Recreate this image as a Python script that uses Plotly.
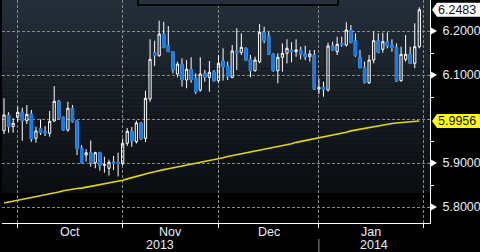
import numpy as np
import pandas as pd
import plotly.graph_objects as go

# ---------------- data ----------------
dates = pd.bdate_range("2013-09-26", "2014-01-31")

opens = [
    5.9735, 6.0091, 5.9826, 6.0039, 6.0153, 5.9962, 6.0114, 5.9562, 5.9789, 5.9712,
    5.9675, 5.9955, 6.0403, 6.0039, 5.9750, 6.0244, 5.9955, 5.9341, 5.9182, 5.9235,
    5.9007, 5.9235, 5.8948, 5.8880, 5.9023, 5.9012, 5.8985, 5.9448, 5.9721, 5.9485,
    5.9910, 5.9562, 6.0455, 6.1507, 6.1439, 6.1932, 6.1666, 6.1530, 6.1023, 6.1250,
    6.0887, 6.1130, 6.0925, 6.0660, 6.1039, 6.0948, 6.1075, 6.0871, 6.1319, 6.1205,
    6.0948, 6.1546, 6.1516, 6.1607, 6.1357, 6.1098, 6.1303, 6.1971, 6.1887, 6.1471,
    6.1098, 6.1403, 6.1494, 6.1569, 6.1530, 6.1569, 6.1478, 6.1416, 6.1455, 6.0682,
    6.0721, 6.0660, 6.1660, 6.1530, 6.1712, 6.1682, 6.2023, 6.1773, 6.1403, 6.1175,
    6.0825, 6.1341, 6.1780, 6.1585, 6.1757, 6.1682, 6.1630, 6.0871, 6.1357, 6.1478,
    6.1266, 6.1644]
highs = [
    6.0471, 6.0153, 6.0016, 6.0280, 6.0257, 6.0319, 6.0205, 5.9826, 5.9994, 5.9841,
    6.0182, 6.0750, 6.0432, 6.0053, 6.0394, 6.0319, 5.9966, 5.9410, 5.9312, 5.9512,
    5.9257, 5.9257, 5.9144, 5.9080, 5.9160, 5.9235, 5.9557, 5.9796, 5.9819, 5.9962,
    5.9932, 6.0644, 6.1812, 6.1780, 6.2235, 6.2212, 6.2114, 6.1541, 6.1303, 6.1380,
    6.1341, 6.1403, 6.1039, 6.1403, 6.1114, 6.1319, 6.1114, 6.1455, 6.1607, 6.1303,
    6.1682, 6.2062, 6.1948, 6.1625, 6.1455, 6.1416, 6.2159, 6.2098, 6.1984, 6.1494,
    6.1494, 6.1721, 6.1812, 6.1744, 6.1812, 6.1644, 6.1666, 6.1569, 6.1569, 6.0925,
    6.0848, 6.1735, 6.1757, 6.1871, 6.1871, 6.2198, 6.2137, 6.1948, 6.1569, 6.1303,
    6.1455, 6.1984, 6.1948, 6.1962, 6.1971, 6.1812, 6.1721, 6.1644, 6.1910, 6.1644,
    6.2175, 6.2539]
lows = [
    5.9660, 5.9689, 5.9689, 5.9939, 5.9507, 5.9887, 5.9485, 5.9462, 5.9637, 5.9614,
    5.9598, 5.9939, 5.9994, 5.9735, 5.9712, 5.9921, 5.9182, 5.8994, 5.9030, 5.8916,
    5.8880, 5.8826, 5.8780, 5.8716, 5.8841, 5.8694, 5.8944, 5.9387, 5.9371, 5.9444,
    5.9523, 5.9478, 6.0394, 6.1205, 6.1416, 6.1607, 6.1530, 6.1039, 6.0948, 6.0735,
    6.0698, 6.0825, 6.0569, 6.0621, 6.0848, 6.0621, 6.0848, 6.0812, 6.0871, 6.0887,
    6.0925, 6.1114, 6.1455, 6.1325, 6.0948, 6.1075, 6.1266, 6.1721, 6.1455, 6.1075,
    6.0812, 6.1075, 6.1266, 6.1289, 6.1416, 6.1357, 6.1341, 6.1303, 6.0660, 6.0569,
    6.0507, 6.0621, 6.1553, 6.1455, 6.1644, 6.1644, 6.1721, 6.1416, 6.1153, 6.0812,
    6.0796, 6.1266, 6.1494, 6.1507, 6.1607, 6.1530, 6.0848, 6.0848, 6.1303, 6.1250,
    6.1153, 6.1607]
closes = [
    6.0091, 5.9826, 5.9903, 6.0153, 5.9962, 6.0107, 5.9546, 5.9728, 5.9689, 5.9675,
    5.9948, 6.0403, 6.0016, 5.9750, 6.0244, 5.9939, 5.9330, 5.9007, 5.9235, 5.9007,
    5.9235, 5.8948, 5.8962, 5.9016, 5.8994, 5.8989, 5.9448, 5.9721, 5.9500, 5.9910,
    5.9551, 6.0471, 6.1357, 6.1439, 6.1932, 6.1630, 6.1530, 6.1114, 6.1250, 6.0887,
    6.1130, 6.0887, 6.0621, 6.1023, 6.0948, 6.1062, 6.0871, 6.1266, 6.1189, 6.0962,
    6.1546, 6.1507, 6.1630, 6.1341, 6.1098, 6.1341, 6.1971, 6.1780, 6.1471, 6.1098,
    6.1403, 6.1494, 6.1607, 6.1530, 6.1569, 6.1471, 6.1416, 6.1478, 6.0682, 6.0721,
    6.0675, 6.1660, 6.1569, 6.1698, 6.1689, 6.2023, 6.1744, 6.1439, 6.1166, 6.0825,
    6.1341, 6.1780, 6.1516, 6.1757, 6.1666, 6.1630, 6.0864, 6.1471, 6.1471, 6.1266,
    6.1644, 6.2483]
moving_avg = [
    5.809, 5.811, 5.813, 5.815, 5.817, 5.819, 5.821, 5.823,
    5.825, 5.828, 5.830, 5.832, 5.834, 5.837, 5.839,
    5.840, 5.842, 5.843, 5.845, 5.847, 5.848, 5.850,
    5.852, 5.854, 5.857, 5.859, 5.861,
    5.864, 5.867, 5.869, 5.872, 5.875,
    5.878, 5.880, 5.883,
    5.885, 5.887, 5.889, 5.891, 5.894, 5.896, 5.898, 5.900, 5.902,
    5.904, 5.906, 5.908, 5.910, 5.912, 5.915, 5.917, 5.919, 5.921, 5.923, 5.925,
    5.927, 5.929, 5.931, 5.934, 5.936, 5.938, 5.940, 5.942, 5.944, 5.947, 5.949,
    5.951, 5.953, 5.955, 5.958, 5.960, 5.962, 5.964, 5.966, 5.968, 5.970, 5.973, 5.975,
    5.977, 5.979, 5.981, 5.983, 5.985, 5.987, 5.989,
    5.990, 5.991, 5.992, 5.993, 5.994, 5.995, 5.9956]

y_tickvals = [5.8, 5.9, 6.0, 6.1, 6.2]
y_ticktext = ["5.8000", "5.9000", "", "6.1000", "6.2000"]
y_minor = [5.85, 5.95, 6.05, 6.15]

# ---------------- derived positions ----------------
n = len(dates)
xs = list(range(n))
month_starts = [i for i in range(1, n) if dates[i].month != dates[i - 1].month] + [n]
month_names = [dates[i].strftime("%b") for i in month_starts[:-1]]
X_RANGE = [-0.44, 93.34]
Y_RANGE = [5.7637, 6.2705]

down = [i for i in range(n) if closes[i] < opens[i]]

BG = "#000000"
TXT = "#e8eef6"
GRID = "#8a8a8a"
BLUE = "#0b7cf2"
FONT = "Liberation Sans"

fig = go.Figure()

fig.add_trace(go.Candlestick(
    x=xs, open=opens, high=highs, low=lows, close=closes,
    increasing=dict(line=dict(color="white", width=1), fillcolor="rgba(0,0,0,0)"),
    decreasing=dict(line=dict(color="white", width=1), fillcolor=BLUE),
    whiskerwidth=0, hoverinfo="skip", showlegend=False,
))
# solid blue bodies for down days (covers the white outline)
fig.add_trace(go.Candlestick(
    x=[xs[i] for i in down],
    open=[opens[i] for i in down], high=[opens[i] for i in down],
    low=[closes[i] for i in down], close=[closes[i] for i in down],
    increasing=dict(line=dict(color=BLUE, width=1), fillcolor=BLUE),
    decreasing=dict(line=dict(color=BLUE, width=1), fillcolor=BLUE),
    whiskerwidth=0, hoverinfo="skip", showlegend=False,
))
fig.add_trace(go.Scatter(
    x=xs, y=moving_avg, mode="lines",
    line=dict(color="#e2d800", width=1.6), hoverinfo="skip", showlegend=False,
))

shapes = []
# gradient panel background (top part of plot area)
PLOT_H = 223.0
panel_bottom = (PLOT_H - 193) / PLOT_H
nb = 48
c_top = np.array([36, 47, 58])
c_bot = np.array([11, 14, 17])
for k in range(nb):
    t = k / (nb - 1)
    col = (c_top * (1 - t) + c_bot * t).astype(int)
    y1 = 1 - (1 - panel_bottom) * k / nb
    y0 = 1 - (1 - panel_bottom) * (k + 1) / nb
    shapes.append(dict(type="rect", xref="paper", yref="paper", x0=0, x1=1, y0=y0, y1=y1 + 0.001,
                       fillcolor=f"rgb({col[0]},{col[1]},{col[2]})", line=dict(width=0), layer="below"))

# clipped legend box at top
shapes.append(dict(type="rect", xref="paper", yref="paper",
                   x0=(138 - 2) / 428, x1=(338 - 2) / 428, y0=(PLOT_H - 5) / PLOT_H, y1=1.02,
                   fillcolor="#27313b", line=dict(color="#060606", width=2), layer="above"))

# right-axis tick markers
for v, t in zip(y_tickvals, y_ticktext):
    if t:
        shapes.append(dict(type="path", xref="paper", yref="y", xsizemode="pixel", ysizemode="pixel",
                           xanchor=1, yanchor=v, path="M 1 -3.5 L 7 0 L 1 3.5 Z",
                           fillcolor="white", line=dict(width=0), layer="above"))

# price tags
last_price = closes[-1]
ma_last = moving_avg[-1]
for val, fc in [(last_price, "#ffffff"), (ma_last, "#ffff00")]:
    shapes.append(dict(type="path", xref="paper", yref="y", xsizemode="pixel", ysizemode="pixel",
                       xanchor=1, yanchor=val, path="M 2 0 L 7 7 L 55 7 L 55 -7 L 7 -7 Z",
                       fillcolor=fc, line=dict(width=0), layer="above"))

# year separator below axis
yr_idx = month_starts[[dates[i].year for i in month_starts[:-1]].index(2014)] if 2014 in [dates[i].year for i in month_starts[:-1]] else None
shapes.append(dict(type="line", xref="x", yref="paper", x0=yr_idx, x1=yr_idx,
                   y0=(PLOT_H - 239) / PLOT_H, y1=(PLOT_H - 254) / PLOT_H,
                   line=dict(color="#8a8a8a", width=1)))

annotations = []
for val in [last_price, ma_last]:
    annotations.append(dict(xref="paper", yref="y", x=1, y=val, xanchor="left", yanchor="middle",
                            xshift=6, text=f"{val:.4f}", showarrow=False,
                            font=dict(family=FONT, size=12.5, color="#111111")))
# month labels
for a, b, name in zip(month_starts[:-1], month_starts[1:], month_names):
    annotations.append(dict(xref="x", yref="paper", x=(a + b) / 2, y=(PLOT_H - 232) / PLOT_H,
                            text=name, showarrow=False, xanchor="center", yanchor="middle",
                            font=dict(family=FONT, size=12.5, color=TXT)))
# year labels
annotations.append(dict(xref="x", yref="paper", x=(X_RANGE[0] + yr_idx) / 2, y=(PLOT_H - 245) / PLOT_H,
                        text=str(dates[0].year), showarrow=False, xanchor="center", yanchor="middle",
                        font=dict(family=FONT, size=12.5, color=TXT)))
annotations.append(dict(xref="x", yref="paper", x=(yr_idx + X_RANGE[1]) / 2, y=(PLOT_H - 245) / PLOT_H,
                        text=str(dates[-1].year), showarrow=False, xanchor="center", yanchor="middle",
                        font=dict(family=FONT, size=12.5, color=TXT)))

fig.update_layout(
    width=480, height=252,
    margin=dict(l=2, r=50, t=0, b=29, pad=0),
    paper_bgcolor=BG, plot_bgcolor=BG,
    showlegend=False, hovermode=False,
    shapes=shapes, annotations=annotations,
    xaxis=dict(range=X_RANGE, tickmode="array", tickvals=month_starts, showticklabels=False,
               ticks="outside", ticklen=4, tickcolor="white", tickwidth=1,
               showgrid=True, gridcolor=GRID, griddash="3px,2px", gridwidth=1,
               showline=True, linecolor="white", linewidth=1, zeroline=False,
               rangeslider=dict(visible=False), fixedrange=True),
    yaxis=dict(range=Y_RANGE, side="right", tickmode="array", tickvals=y_tickvals, ticktext=y_ticktext,
               ticks="", ticklabelstandoff=9,
               tickfont=dict(family=FONT, size=12.5, color=TXT),
               minor=dict(tickvals=y_minor, ticks="outside", ticklen=3, tickcolor="white", showgrid=False),
               showgrid=True, gridcolor=GRID, griddash="3px,2px", gridwidth=1,
               showline=True, linecolor="white", linewidth=1, zeroline=False, fixedrange=True),
)

fig.write_html("out.html")
